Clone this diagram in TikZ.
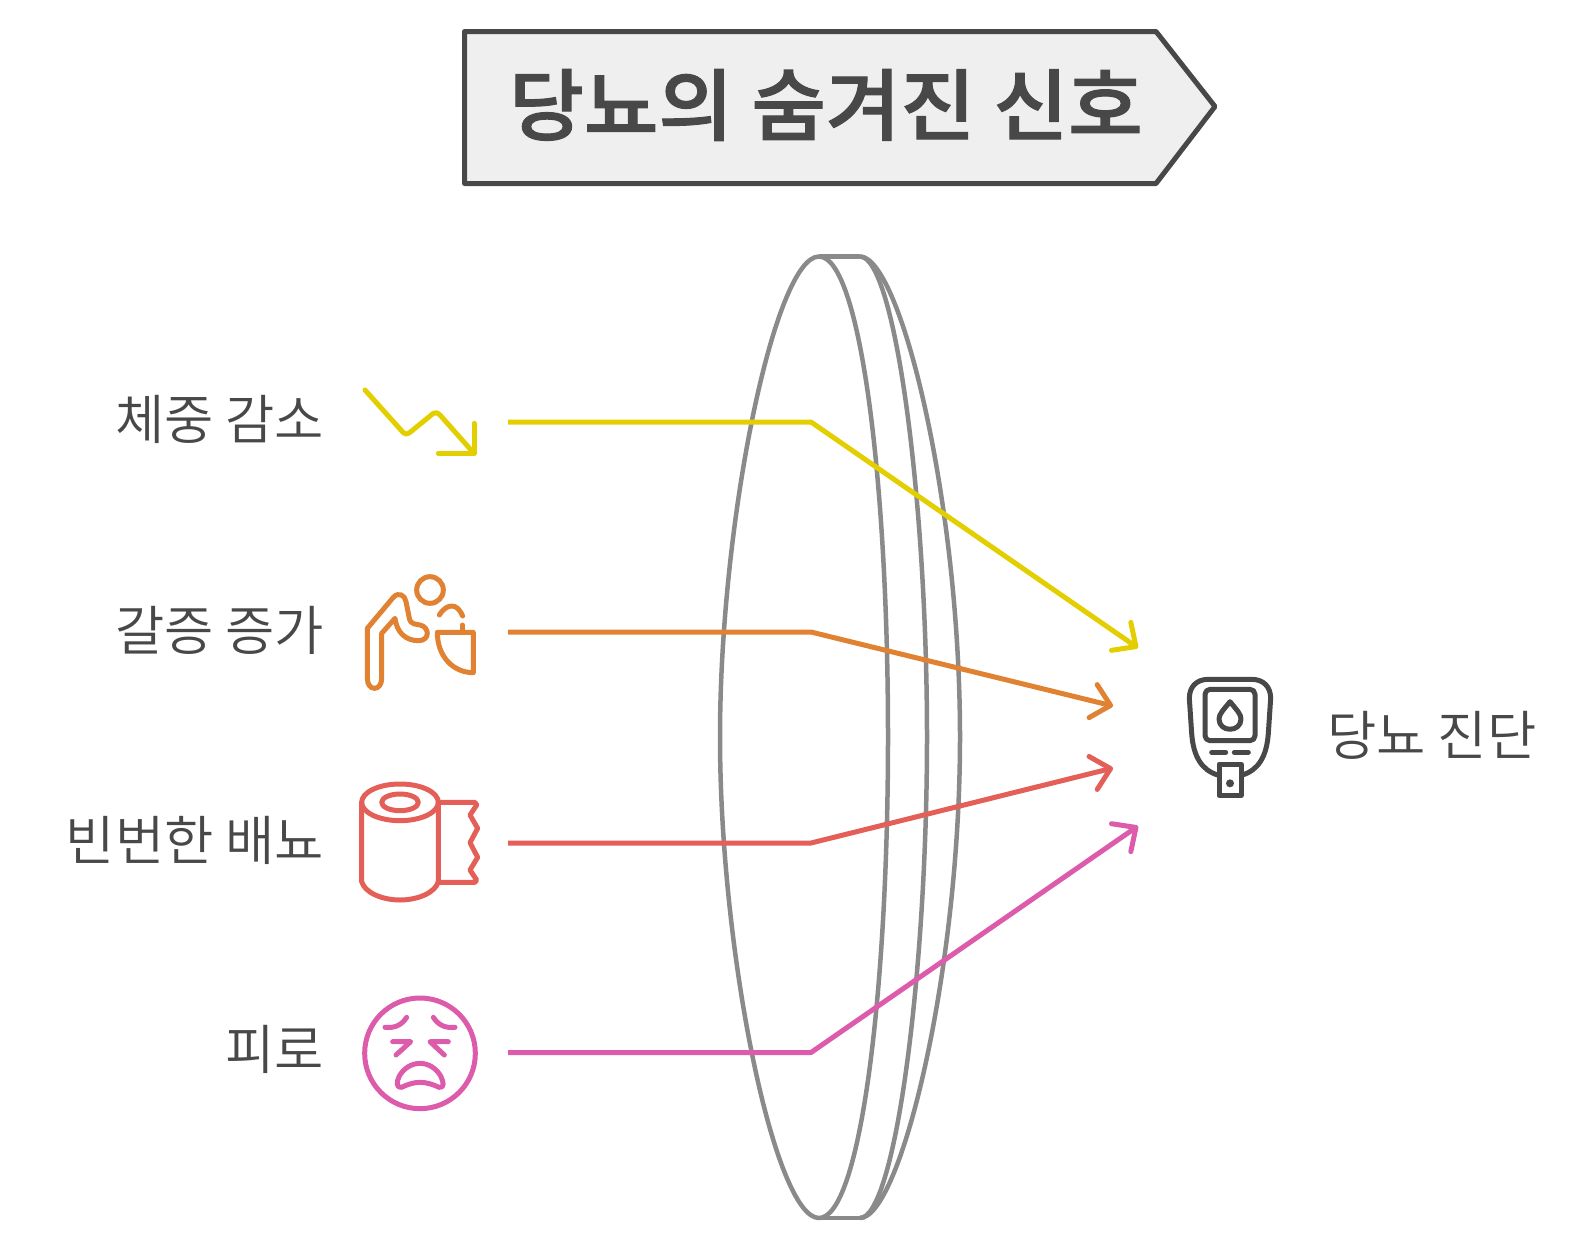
\documentclass[tikz,border=0pt]{standalone}
\usepackage{fontspec}
\usetikzlibrary{arrows.meta}
\newfontfamily\krfont{Noto Sans CJK KR DemiLight}
\newfontfamily\krtitle[FakeBold=1.5,FakeStretch=1.04]{Noto Sans CJK KR Medium}
\definecolor{inkgray}{HTML}{484848}
\definecolor{lensgray}{HTML}{8A8A8A}
\definecolor{titlefill}{HTML}{EFEFEF}
\definecolor{cyellow}{HTML}{E3CE00}
\definecolor{corange}{HTML}{E08232}
\definecolor{cred}{HTML}{E35F58}
\definecolor{cpink}{HTML}{DC5BAB}
\tikzset{
  label/.style={text=inkgray, anchor=east, inner sep=0pt, font=\krfont\fontsize{53.6}{60}\selectfont},
  conn/.style={line width=5pt, line join=round, -{Straight Barb[length=18pt,width=34pt,round]}},
  icon/.style={line width=5pt, line cap=round, line join=round},
  lens/.style={line width=4.5pt, draw=lensgray, line join=round},
}
\begin{document}
\begin{tikzpicture}[x=1pt,y=-1pt]
  \useasboundingbox (0,0) rectangle (1590,1250);
  % title
  \draw[line width=5pt, draw=inkgray, fill=titlefill, line join=round]
    (464.5,31.5) -- (1156,31.5) -- (1215,106.5) -- (1156,183.5) -- (464.5,183.5) -- cycle;
  \node (title) [text=inkgray, inner sep=0pt, font=\krtitle\fontsize{78}{90}\selectfont] at (826,105) {당뇨의 숨겨진 신호};
  % lens
  \draw[lens] (860,256.5) .. controls (900,256.5) and (960,500) .. (960,737)
    .. controls (960,974) and (900,1218) .. (860,1218);
  \draw[lens] (860,256.5) .. controls (895,256.5) and (927,500) .. (927,737)
    .. controls (927,974) and (895,1218) .. (860,1218);
  \draw[lens] (819,256.5) -- (860,256.5) (819,1218) -- (860,1218);
  \draw[lens] (819,256.5) .. controls (775,256.5) and (720,520) .. (720,737)
    .. controls (720,954) and (775,1218) .. (819,1218)
    .. controls (860,1218) and (888,994) .. (888,737)
    .. controls (888,480) and (860,256.5) .. (819,256.5) -- cycle;
  % labels
  \node (lossText) [label] at (324.5,419) {체중 감소};
  \node (thirstText) [label] at (324.5,630) {갈증 증가};
  \node (urineText) [label] at (324.5,840) {빈번한 배뇨};
  \node (tiredText) [label] at (324.5,1049) {피로};
  \node (diagText) [label, anchor=west] at (1327,735) {당뇨 진단};
  % connectors
  \coordinate (lossOut) at (508,422);   \coordinate (lossBend) at (811,422);   \coordinate (lossTip) at (1138,648);
  \coordinate (thirstOut) at (508,632); \coordinate (thirstBend) at (811,632); \coordinate (thirstTip) at (1113,706);
  \coordinate (urineOut) at (508,843);  \coordinate (urineBend) at (811,843);  \coordinate (urineTip) at (1113,768);
  \coordinate (tiredOut) at (508,1052.5); \coordinate (tiredBend) at (811,1052.5); \coordinate (tiredTip) at (1138,826);
  \draw[conn, cyellow] (lossOut) -- (lossBend) -- (lossTip);
  \draw[conn, corange] (thirstOut) -- (thirstBend) -- (thirstTip);
  \draw[conn, cred] (urineOut) -- (urineBend) -- (urineTip);
  \draw[conn, cpink] (tiredOut) -- (tiredBend) -- (tiredTip);
  % weight loss icon
  \begin{scope}[shift={(340,370)},x=1pt/3,y=-1pt/3]
    \draw[icon, cyellow] (75,60) -- (190,188) .. controls (198,194) and (204,192) .. (210,187) -- (280,130)
      .. controls (288,126) and (294,128) .. (300,135) -- (402,250);
    \draw[icon, cyellow] (402,160) -- (402,250) -- (295,250);
    % thirst icon
    \draw[icon, corange] (270,660) circle (40);
    \draw[icon, corange] (165,745) -- (125,790) -- (125,925) .. controls (125,965) and (82,965) .. (82,925)
      -- (82,775) -- (160,682) .. controls (175,665) and (195,675) .. (198,695) -- (208,745)
      .. controls (212,765) and (230,762) .. (240,765) .. controls (268,770) and (272,812) .. (235,812)
      .. controls (195,812) and (170,785) .. (165,745) -- cycle;
    \draw[icon, corange] (298,735) .. controls (310,715) and (325,708) .. (335,708) .. controls (350,708) and (360,720) .. (368,738);
    \draw[icon, corange] (367,765) -- (367,785);
    \draw[icon, corange] (292,787) -- (400,787) -- (400,908) .. controls (340,908) and (292,860) .. (292,787) -- cycle;
  \end{scope}
  % toilet roll icon
  \begin{scope}[shift={(340,760)},x=1pt/3,y=-1pt/3]
    \draw[icon, cred] (180,127) ellipse (115 and 55);
    \draw[icon, cred] (180,127) ellipse (55 and 25);
    \draw[icon, cred] (65,127) -- (65,365) .. controls (75,400) and (130,420) .. (180,420)
      .. controls (230,420) and (285,400) .. (295,365) -- (295,127);
    \draw[icon, cred] (295,127) -- (405,127) -- (410,135) -- (390,165) -- (413,205) -- (390,248)
      -- (413,292) -- (390,330) -- (410,360) -- (405,367) -- (295,367);
    % tired face icon
    \draw[icon, cpink] (240,880) circle (166);
    \draw[icon, cpink] (135,802) .. controls (165,805) and (185,795) .. (200,772);
    \draw[icon, cpink] (345,802) .. controls (315,805) and (295,795) .. (280,772);
    \draw[icon, cpink] (158,845) -- (212,845) -- (168,885);
    \draw[icon, cpink] (325,845) -- (270,845) -- (313,885);
    \draw[icon, cpink] (185,982) .. controls (225,962) and (255,962) .. (297,982)
      .. controls (315,985) and (310,965) .. (303,950) .. controls (290,925) and (265,910) .. (240,910)
      .. controls (215,910) and (190,925) .. (177,950) .. controls (170,965) and (168,985) .. (185,982) -- cycle;
  \end{scope}
  % glucose meter icon
  \begin{scope}[shift={(1060,620)},x=1pt/3,y=-1pt/3]
    \draw[icon, inkgray] (473,465) .. controls (425,450) and (400,410) .. (395,340) -- (388,235)
      .. controls (388,200) and (410,178) .. (445,178) -- (575,178)
      .. controls (610,178) and (632,200) .. (632,235) -- (625,340)
      .. controls (620,410) and (595,450) .. (547,465);
    \draw[icon, inkgray, rounded corners=5pt] (435,208) rectangle (585,362);
    \draw[icon, inkgray] (510,245) .. controls (490,270) and (477,282) .. (477,297)
      .. controls (477,338) and (543,338) .. (543,297) .. controls (543,282) and (530,270) .. (510,245) -- cycle;
    \draw[icon, inkgray] (455,397) -- (497,397) (523,397) -- (565,397);
    \draw[icon, inkgray] (477,432) rectangle (543,527);
    \fill[inkgray] (510,490) circle (12);
  \end{scope}
\end{tikzpicture}
\end{document}
